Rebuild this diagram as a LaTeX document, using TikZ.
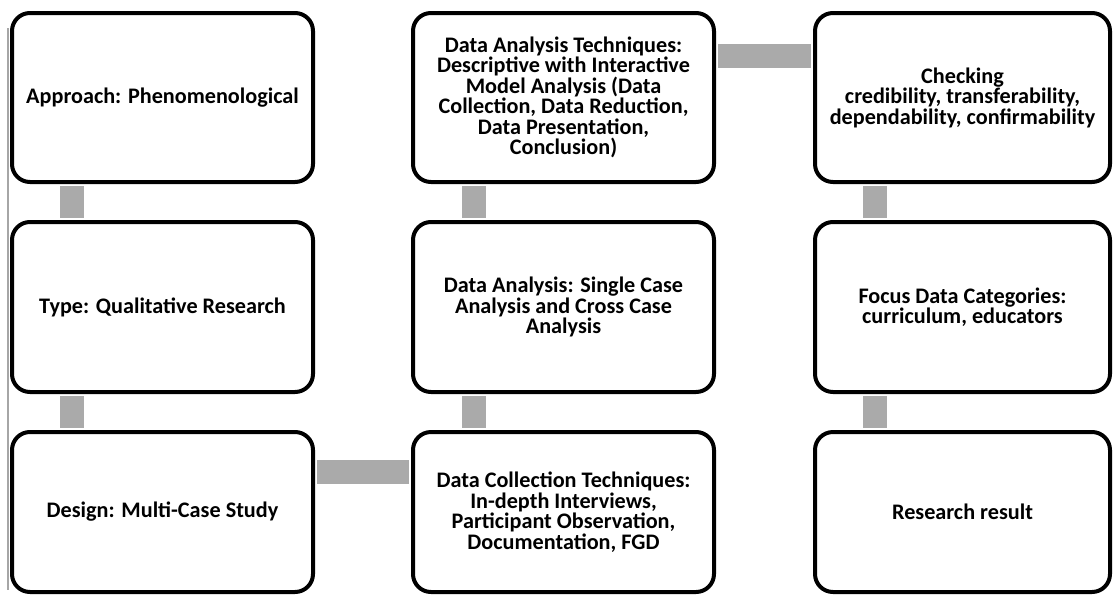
\documentclass[tikz,border=0pt]{standalone}
\usepackage{fontspec}
\setmainfont{Carlito}
\usetikzlibrary{calc}
\definecolor{conngray}{RGB}{170,170,170}
\tikzset{
  box/.style={draw=black, line width=4pt, rounded corners=18pt, fill=white,
    inner sep=0pt, align=center, font=\fontsize{22.2}{20.5}\selectfont\bfseries},
  conn/.style={draw=conngray, line width=24pt},
}
\begin{document}
\begin{tikzpicture}[x=1pt,y=-1pt]
\useasboundingbox (0,0) rectangle (1114,595);
% left artifact line
\draw[gray!70, line width=1.2pt] (8,28) -- (8,590);
% boxes
\node[box, minimum width=301pt, minimum height=169pt] (a1) at (162.5,97.5) {Approach: Phenomenological};
\node[box, minimum width=301pt, minimum height=170pt] (a2) at (162.5,307) {Type: Qualitative Research};
\node[box, minimum width=301pt, minimum height=160pt] (a3) at (162.5,512) {Design: Multi-Case Study};
\node[box, minimum width=301pt, minimum height=169pt] (b1) at (563.5,97.5) {Data Analysis Techniques:\\Descriptive with Interactive\\Model Analysis (Data\\Collection, Data Reduction,\\Data Presentation,\\Conclusion)};
\node[box, minimum width=301pt, minimum height=170pt] (b2) at (563.5,307) {Data Analysis: Single Case\\Analysis and Cross Case\\Analysis};
\node[box, minimum width=301pt, minimum height=160pt] (b3) at (563.5,512) {Data Collection Techniques:\\In-depth Interviews,\\Participant Observation,\\Documentation, FGD};
\node[box, minimum width=295pt, minimum height=169pt] (c1) at (962.5,97.5) {Checking\\credibility, transferability,\\dependability, confirmability};
\node[box, minimum width=295pt, minimum height=170pt] (c2) at (962.5,307) {Focus Data Categories:\\curriculum, educators};
\node[box, minimum width=295pt, minimum height=160pt] (c3) at (962.5,512) {Research result};
% connectors
\draw[conn] ([xshift=61.5pt,yshift=-2pt]a1.south west) -- ([xshift=61.5pt,yshift=2pt]a2.north west);
\draw[conn] ([xshift=61.5pt,yshift=-2pt]a2.south west) -- ([xshift=61.5pt,yshift=2pt]a3.north west);
\draw[conn] ([xshift=-89.5pt,yshift=-2pt]b2.south) -- ([xshift=-89.5pt,yshift=2pt]b3.north);
\draw[conn] ([xshift=-89.5pt,yshift=-2pt]b1.south) -- ([xshift=-89.5pt,yshift=2pt]b2.north);
\draw[conn] ([xshift=-87.5pt,yshift=-2pt]c1.south) -- ([xshift=-87.5pt,yshift=2pt]c2.north);
\draw[conn] ([xshift=-87.5pt,yshift=-2pt]c2.south) -- ([xshift=-87.5pt,yshift=2pt]c3.north);
\draw[conn] ([xshift=2pt,yshift=40.5pt]a3.east) -- ([xshift=-2pt,yshift=40.5pt]b3.west);
\draw[conn] ([xshift=2pt,yshift=42pt]b1.east) -- ([xshift=-2pt,yshift=42pt]c1.west);
\end{tikzpicture}
\end{document}
